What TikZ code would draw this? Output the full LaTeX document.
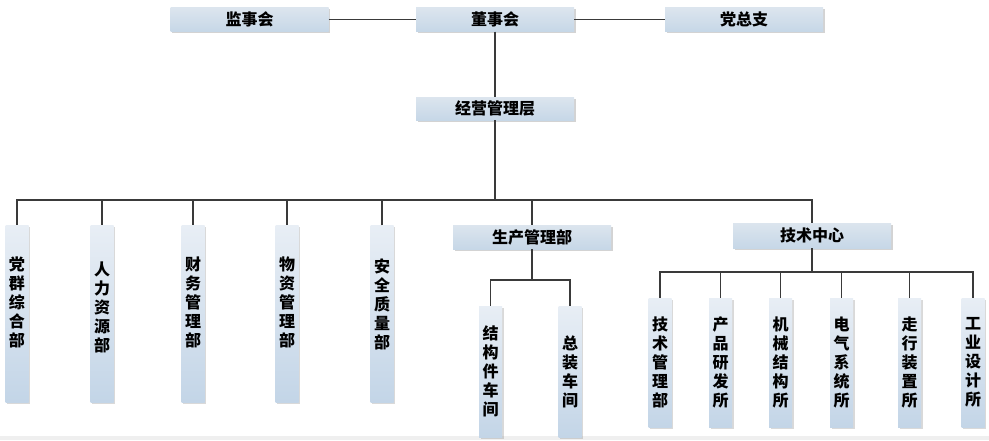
\documentclass[tikz,border=0pt]{standalone}
\usepackage{fontspec}
\newfontfamily\cjk{Noto Sans CJK SC}
\usetikzlibrary{shadows}
\definecolor{lnc}{HTML}{3A3A3A}
\definecolor{boxtop}{HTML}{DCE5EE}
\definecolor{boxmid}{HTML}{EDF2F7}
\definecolor{boxbot}{HTML}{C6D7E7}
\definecolor{vtop}{HTML}{E8EEF5}
\definecolor{vbot}{HTML}{C3D5E7}
\definecolor{band}{HTML}{EFEFEF}
\begin{document}
\begin{tikzpicture}[x=1pt,y=-1pt,
  conn/.style={draw=lnc, line width=1.7pt},
  hbox/.style={top color=boxtop, middle color=boxmid, bottom color=boxbot,
    minimum width=158pt, minimum height=24pt, inner sep=0pt,
    drop shadow={shadow xshift=1.5pt, shadow yshift=-1.5pt, opacity=0.35, fill=gray},
    font=\cjk\bfseries\fontsize{16}{19}\selectfont},
  vbox/.style={top color=vtop, bottom color=vbot,
    minimum width=23pt, inner sep=0pt, align=center,
    drop shadow={shadow xshift=1.5pt, shadow yshift=-1.5pt, opacity=0.3, fill=gray},
    font=\cjk\bfseries\fontsize{16}{19}\selectfont},
  vtext/.style={inner sep=0pt, align=center, font=\cjk\bfseries\fontsize{16}{19}\selectfont}]
\useasboundingbox (0,0) rectangle (989,440);
\fill[band] (0,436) rectangle (989,440);

% top level
\node[hbox] (jsh) at (249.5,19.5) {监事会};
\node[hbox] (dsh) at (495,19.5) {董事会};
\node[hbox] (dzz) at (744,19.5) {党总支};
\node[hbox, minimum height=23pt] (jyg) at (495,108.5) {经营管理层};

% second level
\node[vbox, minimum height=177pt] (b1) at (17,313.5) {};
\node[vbox, minimum height=177pt] (b2) at (102,313.5) {};
\node[vbox, minimum height=177pt] (b3) at (193,313.5) {};
\node[vbox, minimum height=177pt] (b4) at (287,313.5) {};
\node[vbox, minimum height=177pt] (b5) at (382,314) {};
\node[vtext] (b1t) at ([yshift=11pt]b1.center) {党\\群\\综\\合\\部};
\node[vtext] (b2t) at ([yshift=6pt]b2.center) {人\\力\\资\\源\\部};
\node[vtext] (b3t) at ([yshift=11pt]b3.center) {财\\务\\管\\理\\部};
\node[vtext] (b4t) at ([yshift=11pt]b4.center) {物\\资\\管\\理\\部};
\node[vtext] (b5t) at ([yshift=10pt]b5.center) {安\\全\\质\\量\\部};
\node[hbox] (scb) at (532,237) {生产管理部};
\node[hbox, minimum height=25pt] (jsz) at (812,235.5) {技术中心};

% production workshops
\node[vbox, minimum height=131pt] (c1) at (490.5,371.5) {结\\构\\件\\车\\间};
\node[vbox, minimum height=131pt] (c2) at (570,371.5) {总\\装\\车\\间};

% technical institutes
\node[vbox, minimum height=129pt] (t1) at (660,362.5) {技\\术\\管\\理\\部};
\node[vbox, minimum height=129pt] (t2) at (720.5,362.5) {产\\品\\研\\发\\所};
\node[vbox, minimum height=129pt] (t3) at (780.5,362.5) {机\\械\\结\\构\\所};
\node[vbox, minimum height=129pt] (t4) at (841.5,362.5) {电\\气\\系\\统\\所};
\node[vbox, minimum height=129pt] (t5) at (909.5,362.5) {走\\行\\装\\置\\所};
\node[vbox, minimum height=129pt] (t6) at (973,362.5) {工\\业\\设\\计\\所};

% bus points
\coordinate (bus) at (495,200);
\coordinate (pbus) at (532,280);
\coordinate (tbus) at (812,272);

% connectors
\draw[conn] (jsh.east) -- (dsh.west);
\draw[conn] (dsh.east) -- (dzz.west);
\draw[conn] (dsh.south) -- (jyg.north);
\draw[conn] (jyg.south) -- (bus);
\foreach \n in {b1,b2,b3,b4,b5,scb,jsz} {
  \draw[conn] (\n.north) |- (bus);
}
\draw[conn] (scb.south) -- (pbus);
\draw[conn] (c1.north) |- (pbus);
\draw[conn] (c2.north) |- (pbus);
\draw[conn] (jsz.south) -- (tbus);
\foreach \n in {t1,t2,t3,t4,t5,t6} {
  \draw[conn] (\n.north) |- (tbus);
}
\end{tikzpicture}
\end{document}
